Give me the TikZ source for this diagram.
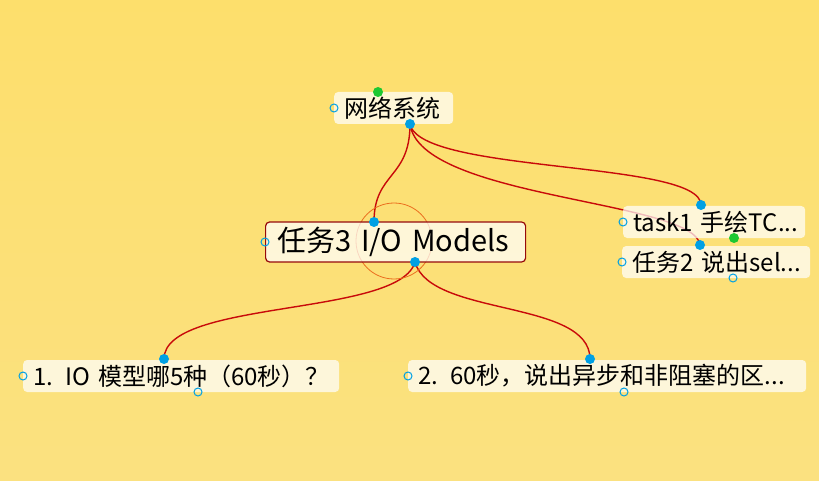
\documentclass[tikz,border=0pt]{standalone}
\usepackage{fontspec}
\newfontfamily\cjk{Noto Sans CJK SC}
\usepackage{tikz}
\usetikzlibrary{positioning}
\definecolor{bgtop}{RGB}{253,223,108}
\definecolor{bgbot}{RGB}{251,225,128}
\definecolor{linkred}{RGB}{200,10,10}
\definecolor{boxred}{RGB}{150,10,10}
\definecolor{dotblue}{RGB}{0,160,228}
\definecolor{dotgreen}{RGB}{30,200,50}
\definecolor{ringorange}{RGB}{235,110,30}

\begin{document}
\begin{tikzpicture}[x=1pt,y=-1pt,
  topic/.style={anchor=west, fill=white, fill opacity=0.72, text opacity=1, rounded corners=4pt,
    inner xsep=10pt, inner ysep=0pt, align=left, minimum height=32pt,
    font=\cjk\fontsize{24}{26}\selectfont},
  central/.style={topic, draw=boxred, draw opacity=1, line width=1.2pt, inner xsep=12pt,
    minimum height=40pt, font=\cjk\fontsize{29}{31}\selectfont},
  link/.style={linkred, line width=1.4pt},
  dot/.style={circle, fill=dotblue, inner sep=0pt, minimum size=10pt},
  gdot/.style={circle, fill=dotgreen, inner sep=0pt, minimum size=10pt},
  hole/.style={circle, draw=dotblue, line width=1pt, inner sep=0pt, minimum size=8pt}]
% Sfondo
\shade[top color=bgtop, bottom color=bgbot] (0,0) rectangle (819,481);
\useasboundingbox (0,0) rectangle (819,481);
% Punti di aggancio
\coordinate (rootout) at (410,124);
\coordinate (cin) at (374,222);
\coordinate (cout) at (415,262);
\coordinate (t1in) at (701,205);
\coordinate (t2in) at (700,245);
\coordinate (q1in) at (164,359);
\coordinate (q2in) at (590,359);
% Collegamenti
\draw[link] (rootout) .. controls +(0,55) and +(0,-50) .. (cin);
\draw[link] (rootout) .. controls +(10,50) and +(0,-45) .. (t1in);
\draw[link] (rootout) .. controls +(10,75) and +(-5,-45) .. (t2in);
\draw[link] (cout) .. controls +(-15,55) and +(0,-60) .. (q1in);
\draw[link] (cout) .. controls +(15,55) and +(0,-60) .. (q2in);
% Anello attorno al nodo centrale
\draw[ringorange, line width=0.8pt] (394,241) circle (38);
% Nodi
\node[topic, text width=99pt] (root) at (334,108) {\mbox{网络系统}};
\node[central, text width=236pt] (task3) at (265,242) {\mbox{任务3 I/O Models}};
\node[topic, text width=162pt] (task1) at (623,222) {\mbox{task1 手绘TC...}};
\node[topic, text width=168pt] (task2) at (622,262) {\mbox{任务2 说出sel...}};
\node[topic, text width=296pt] (q1) at (23,376) {\mbox{1. IO 模型哪5种（60秒）？}};
\node[topic, text width=378pt] (q2) at (408,376) {\mbox{2. 60秒，说出异步和非阻塞的区...}};
% Maniglie
\node[dot] at (rootout) {};
\node[dot] at (cin) {};
\node[dot] at (cout) {};
\node[dot] at (t1in) {};
\node[dot] at (t2in) {};
\node[dot] at (q1in) {};
\node[dot] at (q2in) {};
\node[gdot] at (378,92) {};
\node[gdot] at (734,238) {};
\node[hole] at (root.west) {};
\node[hole] at (task3.west) {};
\node[hole] at (task1.west) {};
\node[hole] at (task2.west) {};
\node[hole] at (q1.west) {};
\node[hole] at (q2.west) {};
\node[hole] at (733,278) {};
\node[hole] at (198,392) {};
\node[hole] at (624,392) {};
\end{tikzpicture}
\end{document}
